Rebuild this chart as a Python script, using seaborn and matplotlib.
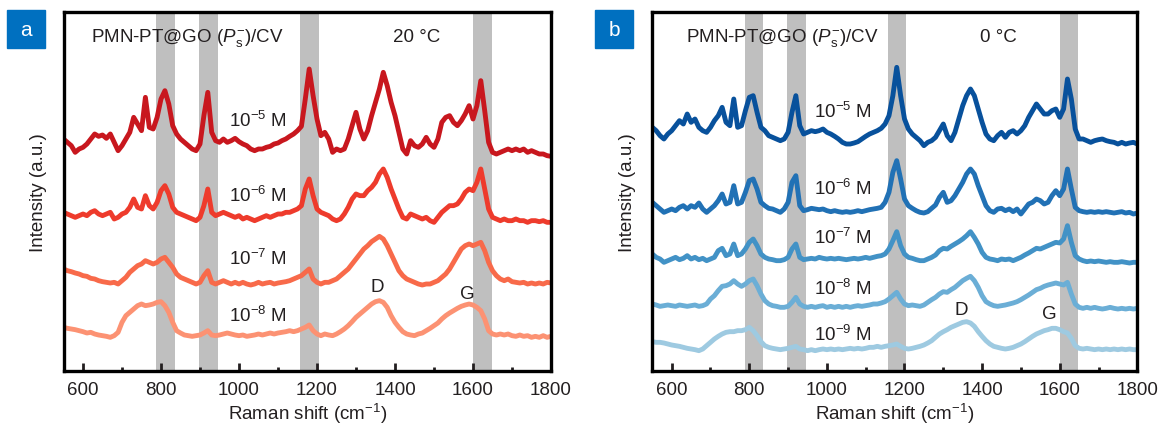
import numpy as np
import pandas as pd
import matplotlib
matplotlib.use("Agg")
import matplotlib.pyplot as plt
from matplotlib.patches import Rectangle
import seaborn as sns

# ---------------- data ----------------
raman_shift = list(range(550, 1801, 10))  # cm^-1 sampling grid

# Panel a (20 °C), stacked intensities (a.u.)
a_1e5 = [730,720,710,690,700,705,715,730,745,738,
         742,732,745,720,695,710,730,750,795,775,
         755,855,765,760,795,850,875,835,770,745,
         730,720,710,700,695,715,800,870,750,725,
         720,730,720,725,732,722,715,710,700,695,
         700,700,705,708,715,718,725,730,738,745,
         755,768,850,940,860,790,740,750,730,690,
         700,695,700,730,770,810,760,730,755,800,
         840,880,930,890,840,800,750,700,685,725,
         710,705,715,735,715,705,730,780,795,800,
         780,770,785,805,830,790,830,905,815,720,
         690,685,690,695,700,695,700,695,700,690,
         695,690,685,685,680,678]
a_1e6 = [510,505,500,495,500,505,500,510,515,505,
         500,505,510,490,495,505,510,525,550,525,
         520,560,530,520,540,575,590,565,525,510,
         505,500,495,490,485,495,530,580,510,500,
         505,510,505,500,495,500,490,495,490,485,
         490,495,500,495,500,505,505,510,510,515,
         520,530,580,610,560,520,510,505,500,490,
         485,490,505,525,550,565,560,560,575,585,
         600,625,640,615,580,550,520,495,490,505,
         500,495,490,495,485,480,495,510,520,530,
         530,535,550,570,580,575,600,640,580,520,
         495,490,485,490,485,485,490,485,485,480,
         485,485,482,485,480,480]
a_1e7 = [340,335,332,328,325,320,318,312,310,305,
         302,300,298,300,295,305,315,330,340,350,
         355,365,360,355,360,370,375,360,345,325,
         315,310,305,300,295,300,320,335,300,295,
         300,305,300,295,300,295,300,295,292,295,
         300,295,298,300,295,298,300,302,305,310,
         315,320,330,340,310,300,295,300,300,305,
         310,320,330,340,355,370,385,400,410,422,
         430,438,430,410,385,360,335,320,310,305,
         300,295,292,295,295,300,305,315,325,340,
         360,380,400,410,415,410,415,420,395,360,
         335,320,310,305,310,302,300,298,300,295,
         298,295,298,295,300,298]
a_1e8 = [165,162,160,158,155,152,148,150,145,142,
         140,138,135,140,150,180,200,210,220,230,
         235,230,232,235,240,242,230,210,180,155,
         148,142,140,138,140,142,148,155,142,140,
         142,145,148,145,142,140,142,138,140,142,
         145,142,145,148,145,148,150,152,155,152,
         155,160,165,172,155,145,140,145,142,140,
         145,152,160,170,182,195,205,215,225,235,
         242,245,240,225,200,180,165,152,145,142,
         140,145,148,155,162,170,178,190,200,208,
         215,222,228,232,235,232,225,215,190,155,
         145,142,145,142,145,140,138,142,138,140,
         135,138,135,140,135,138]

# Panel b (0 °C)
b_1e5 = [765,755,740,730,745,755,770,785,775,805,
         780,790,765,755,750,765,785,800,825,780,
         770,850,765,770,815,855,860,810,765,755,
         740,735,730,725,730,750,810,860,770,745,
         750,755,752,755,760,750,745,738,730,720,
         715,715,718,722,730,738,745,750,755,762,
         775,800,860,945,860,790,760,745,735,725,
         710,720,725,735,755,775,740,725,750,790,
         830,860,880,860,820,780,745,730,725,740,
         750,735,750,755,745,755,770,795,815,835,
         820,805,805,815,820,795,820,910,850,760,
         730,730,725,720,725,728,730,725,722,720,
         715,720,715,718,720,715]
b_1e6 = [540,530,520,510,515,520,515,525,530,520,
         530,525,538,520,510,520,530,545,565,535,
         540,590,535,540,570,605,610,580,540,530,
         522,520,515,510,520,540,600,620,530,515,
         518,522,520,518,520,515,512,515,512,510,
         512,510,512,515,512,515,518,520,522,525,
         540,570,630,665,610,550,530,522,515,510,
         508,512,522,532,555,570,540,545,560,580,
         600,625,640,625,590,560,530,515,510,520,
         522,515,520,512,520,505,520,535,540,550,
         545,535,540,560,575,560,580,640,580,525,
         515,512,510,512,510,512,510,512,510,508,
         510,512,508,510,505,508]
b_1e7 = [385,375,370,360,365,370,375,368,372,380,
         370,375,368,372,365,370,375,395,402,380,
         385,415,380,385,400,420,430,410,385,375,
         370,368,365,365,368,375,400,415,375,368,
         370,372,370,375,372,370,372,370,372,370,
         368,370,372,370,372,375,372,375,378,380,
         385,400,425,452,410,385,375,372,368,365,
         365,370,375,382,395,402,400,408,415,422,
         430,440,452,435,415,390,375,370,368,365,
         370,368,370,365,370,375,382,388,395,402,
         400,405,410,415,420,418,430,470,420,380,
         370,365,362,364,362,364,362,360,362,360,
         360,362,360,358,360,360]
b_1e8 = [235,232,228,230,232,230,228,232,230,228,
         230,232,228,230,235,250,260,275,288,290,
         295,305,295,288,295,305,310,290,265,245,
         235,230,228,225,225,228,240,255,235,228,
         225,228,225,228,230,225,228,225,228,225,
         228,225,228,230,228,230,232,235,235,238,
         242,250,260,270,250,235,230,232,230,228,
         232,240,248,255,265,272,270,278,285,295,
         305,312,318,305,285,260,242,235,230,228,
         230,232,235,238,242,248,255,262,270,278,
         282,288,292,295,298,295,292,300,265,235,
         225,222,225,222,225,222,220,222,225,222,
         220,222,220,222,220,222]
b_1e9 = [122,120,120,118,115,112,110,108,105,102,
         100,98,95,100,110,120,130,138,145,150,
         152,152,155,155,158,165,155,140,122,110,
         105,102,100,98,100,102,105,108,100,98,
         95,98,95,98,100,98,100,98,100,98,
         100,102,100,102,100,102,105,105,108,105,
         108,110,112,115,108,102,100,102,105,108,
         112,118,125,135,145,152,158,165,170,175,
         180,182,178,168,152,138,125,115,108,105,
         102,100,102,105,110,115,122,130,138,145,
         150,155,158,162,162,158,152,148,132,110,
         102,100,102,100,98,100,98,100,98,100,
         98,100,98,100,98,98]

conc_a = ["1e-5", "1e-6", "1e-7", "1e-8"]
conc_b = ["1e-5", "1e-6", "1e-7", "1e-8", "1e-9"]
series_a = [a_1e5, a_1e6, a_1e7, a_1e8]
series_b = [b_1e5, b_1e6, b_1e7, b_1e8, b_1e9]
colors_a = ["#C8171E", "#EE3B2C", "#F86A4A", "#FC9273"]
colors_b = ["#08519C", "#2171B5", "#4292C6", "#6BAED6", "#9ECAE1"]
labels_a = ["$10^{-5}$ M", "$10^{-6}$ M", "$10^{-7}$ M", "$10^{-8}$ M"]
labels_b = ["$10^{-5}$ M", "$10^{-6}$ M", "$10^{-7}$ M", "$10^{-8}$ M", "$10^{-9}$ M"]
label_pos_a = [(1049, 787), (1049, 563), (1049, 373), (1049, 203)]
label_pos_b = [(1041, 815), (1041, 583), (1041, 435), (1041, 283), (1041, 145)]
bands = [(788, 836), (897, 945), (1157, 1205), (1600, 1648)]
temps = ["20 °C", "0 °C"]

for s in series_a + series_b:
    assert len(s) == len(raman_shift), len(s)

def long_df(series, concs):
    rows = []
    for s, c in zip(series, concs):
        rows.append(pd.DataFrame({"shift": raman_shift, "intensity": s, "conc": c}))
    return pd.concat(rows, ignore_index=True)

df_a = long_df(series_a, conc_a)
df_b = long_df(series_b, conc_b)

# ---------------- style ----------------
sns.set_style("white")
plt.rcParams["font.family"] = ["Liberation Sans", "DejaVu Sans"]
plt.rcParams["mathtext.fontset"] = "custom"
plt.rcParams["mathtext.rm"] = "Liberation Sans"
plt.rcParams["mathtext.it"] = "Liberation Sans:italic"
plt.rcParams["mathtext.bf"] = "Liberation Sans:bold"
TXT = "#231F20"
FS = 13.5

fig = plt.figure(figsize=(11.67, 4.27), dpi=100)
W, H = 1167, 427
ax_a = fig.add_axes([63.5 / W, 1 - 372 / H, (551 - 63.5) / W, 359 / H])
ax_b = fig.add_axes([652.3 / W, 1 - 372 / H, (1137.3 - 652.3) / W, 359 / H])

def draw(ax, df, concs, colors, labels, lpos, temp, title_x, temp_x, dg):
    for lo, hi in bands:
        ax.axvspan(lo, hi, color="#BFBFBF", lw=0, zorder=0)
    sns.lineplot(data=df, x="shift", y="intensity", hue="conc", hue_order=concs,
                 palette=colors, linewidth=3.5, legend=False, ax=ax, zorder=3,
                 estimator=None, sort=False)
    ax.set_xlim(550, 1800)
    ax.set_ylim(34, 1111)
    ax.set_xticks([600, 800, 1000, 1200, 1400, 1600, 1800])
    ax.set_xticks([700, 900, 1100, 1300, 1500, 1700], minor=True)
    ax.set_yticks([])
    ax.tick_params(axis="x", which="major", direction="in", length=6, width=2,
                   labelsize=FS, pad=7, colors=TXT, labelcolor=TXT, bottom=True)
    ax.tick_params(axis="x", which="minor", direction="in", length=3, width=2,
                   bottom=True, colors=TXT)
    for sp in ax.spines.values():
        sp.set_linewidth(2.4)
        sp.set_color("black")
        sp.set_zorder(5)
    ax.set_xlabel("Raman shift (cm$^{-1}$)", fontsize=FS, color=TXT, labelpad=2)
    ax.set_ylabel("Intensity (a.u.)", fontsize=FS, color=TXT, labelpad=12)
    for lab, (x, y) in zip(labels, lpos):
        ax.text(x, y, lab, fontsize=FS, color=TXT, ha="center", va="center", zorder=6)
    ax.text(title_x, 1036, r"PMN-PT@GO ($\mathit{P}_\mathrm{s}^{-}$)/CV", fontsize=FS,
            color=TXT, ha="center", va="center", zorder=6)
    ax.text(temp_x, 1036, temp, fontsize=FS, color=TXT, ha="center", va="center", zorder=6)
    (dx, dy), (gx, gy) = dg
    ax.text(dx, dy, "D", fontsize=FS, color=TXT, ha="center", va="center", zorder=6)
    ax.text(gx, gy, "G", fontsize=FS, color=TXT, ha="center", va="center", zorder=6)

draw(ax_a, df_a, conc_a, colors_a, labels_a, label_pos_a, temps[0], 869, 1456,
     ((1354, 286), (1585, 265)))
draw(ax_b, df_b, conc_b, colors_b, labels_b, label_pos_b, temps[1], 886, 1443,
     ((1347, 217), (1574, 205)))

for x0, letter in [(7, "a"), (595, "b")]:
    fig.patches.append(Rectangle((x0 / W, 1 - 49 / H), 38 / W, 38 / H,
                                 transform=fig.transFigure, color="#0070C0", zorder=10))
    fig.text((x0 + 19) / W, 1 - 30.5 / H, letter, color="white", fontsize=15,
             ha="center", va="center", zorder=11)

fig.savefig("out.png", dpi=100)
